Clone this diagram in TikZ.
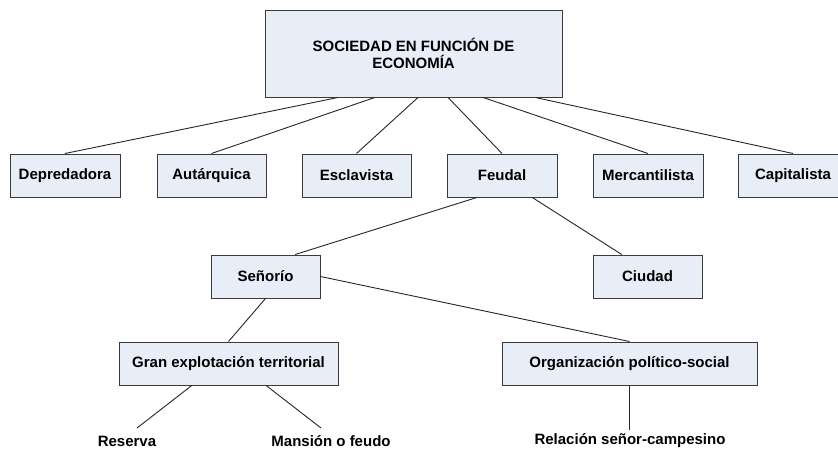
\documentclass[tikz,border=0pt]{standalone}
\usepackage{fontspec}
\setmainfont{Liberation Sans}
\usetikzlibrary{calc}
\definecolor{boxfill}{HTML}{E8EEF8}
\definecolor{boxline}{HTML}{3A3A3A}
\tikzset{
  box/.style={draw=boxline, fill=boxfill, line width=1pt, minimum height=43pt, inner sep=0pt, align=center, font=\fontsize{15}{17}\selectfont\bfseries},
  leaf/.style={inner sep=0pt, font=\fontsize{15}{17}\selectfont\bfseries},
  conn/.style={draw=black!85, line width=0.9pt}
}
\begin{document}
\begin{tikzpicture}[x=1pt,y=-1pt]
\path[use as bounding box] (0,0) rectangle (838,450);
\clip (0,0) rectangle (838,450);
\fill[white] (0,0) rectangle (838,450);

\node[box, minimum width=297pt, minimum height=87pt] (top) at (413.5,53.5) {SOCIEDAD EN FUNCIÓN DE\\ECONOMÍA};

\node[box, minimum width=110pt] (dep) at (65,175.5) {Depredadora};
\node[box, minimum width=109pt] (aut) at (211.5,175.5) {Autárquica};
\node[box, minimum width=109pt] (esc) at (356.5,175.5) {Esclavista};
\node[box, minimum width=110pt] (feu) at (502,175.5) {Feudal};
\node[box, minimum width=110pt] (mer) at (648,175.5) {Mercantilista};
\node[box, minimum width=110pt] (cap) at (793,175.5) {Capitalista};

\node[box, minimum width=109pt] (sen) at (265.5,276.5) {Señorío};
\node[box, minimum width=109pt] (ciu) at (647.5,276.5) {Ciudad};

\node[box, minimum width=219pt] (gran) at (228.5,363.5) {Gran explotación territorial};
\node[box, minimum width=255pt] (org) at (629.5,363.5) {Organización político-social};

\node[leaf] (res) at (127,441) {Reserva};
\node[leaf] (man) at (331,441) {Mansión o feudo};
\node[leaf] (rel) at (630,441) {Relación señor-campesino};

\coordinate (resend) at (137,428);
\coordinate (manend) at (321,428);
\coordinate (relend) at (629.5,430);

\draw[conn] ($(top.south west)!0.246!(top.south east)$) -- (dep.north);
\draw[conn] ($(top.south west)!0.370!(top.south east)$) -- (aut.north);
\draw[conn] ($(top.south west)!0.515!(top.south east)$) -- (esc.north);
\draw[conn] ($(top.south west)!0.616!(top.south east)$) -- (feu.north);
\draw[conn] ($(top.south west)!0.734!(top.south east)$) -- (mer.north);
\draw[conn] ($(top.south west)!0.909!(top.south east)$) -- (cap.north);

\draw[conn] ($(feu.south west)!0.273!(feu.south east)$) -- ($(sen.north west)!0.77!(sen.north east)$);
\draw[conn] ($(feu.south west)!0.773!(feu.south east)$) -- ($(ciu.north west)!0.266!(ciu.north east)$);

\draw[conn] (sen.east) -- (org.north);
\draw[conn] (sen.south) -- (gran.north);

\draw[conn] ($(gran.south west)!0.333!(gran.south east)$) -- (resend);
\draw[conn] ($(gran.south west)!0.671!(gran.south east)$) -- (manend);
\draw[conn] (org.south) -- (relend);
\end{tikzpicture}
\end{document}
